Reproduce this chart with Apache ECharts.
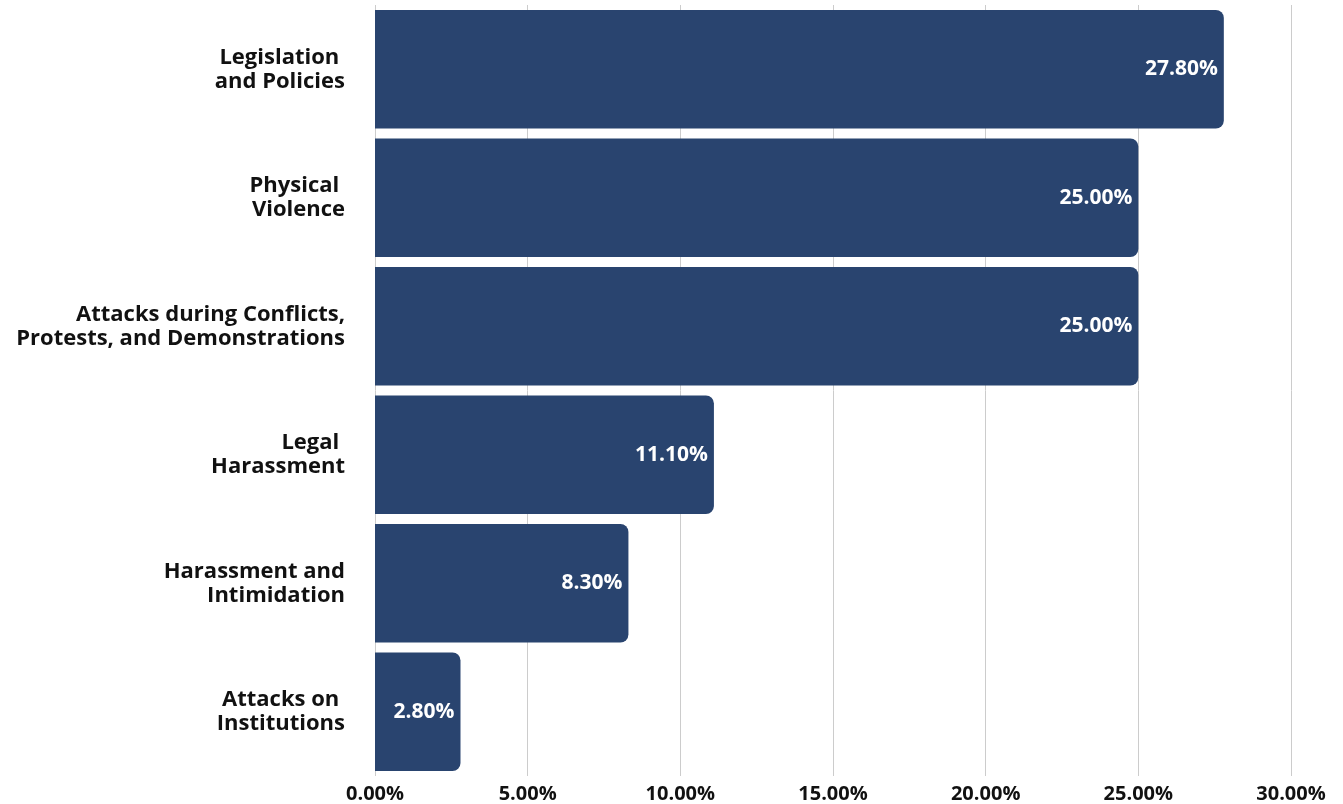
<!DOCTYPE html>
<html><head><meta charset="utf-8">
<script src="https://cdn.jsdelivr.net/npm/echarts@6/dist/echarts.min.js"></script>
<style>html,body{margin:0;padding:0;background:#fff}#c{width:1343px;height:804px}</style>
</head><body><div id="c"></div>
<script>
const categories = ["Legislation \nand Policies","Physical \nViolence","Attacks during Conflicts,\nProtests, and Demonstrations","Legal \nHarassment","Harassment and\nIntimidation","Attacks on \nInstitutions"];
const values = [27.8, 25.0, 25.0, 11.1, 8.3, 2.8];
const chart = echarts.init(document.getElementById('c'));
chart.setOption({
  animation: false,
  grid: {left: 375, right: 52, top: 5, bottom: 25},
  xAxis: {
    type: 'value', min: 0, max: 30, interval: 5,
    axisLabel: {formatter: v => v.toFixed(2) + '%', fontFamily: 'Open Sans', fontWeight: 'bold', fontSize: 20, color: '#111', margin: 8},
    splitLine: {lineStyle: {color: '#cccccc', width: 1}},
    axisLine: {show: false}, axisTick: {show: false}
  },
  yAxis: {
    type: 'category', inverse: true, data: categories,
    axisLabel: {fontFamily: 'Open Sans', fontWeight: 'bold', fontSize: 22, color: '#111', margin: 30, lineHeight: 24, align: 'right', padding: [0, 0, 8, 0]},
    axisLine: {show: false}, axisTick: {show: false}
  },
  series: [{
    type: 'bar', data: values, barCategoryGap: '7.75%',
    itemStyle: {color: '#29446f', borderRadius: [0, 8, 8, 0]},
    label: {show: true, position: 'insideRight', distance: 6, formatter: p => p.value.toFixed(2) + '%', color: '#fff', fontFamily: 'Open Sans', fontWeight: 'bold', fontSize: 21, padding: [4, 0, 0, 0]}
  }]
});
</script></body></html>
